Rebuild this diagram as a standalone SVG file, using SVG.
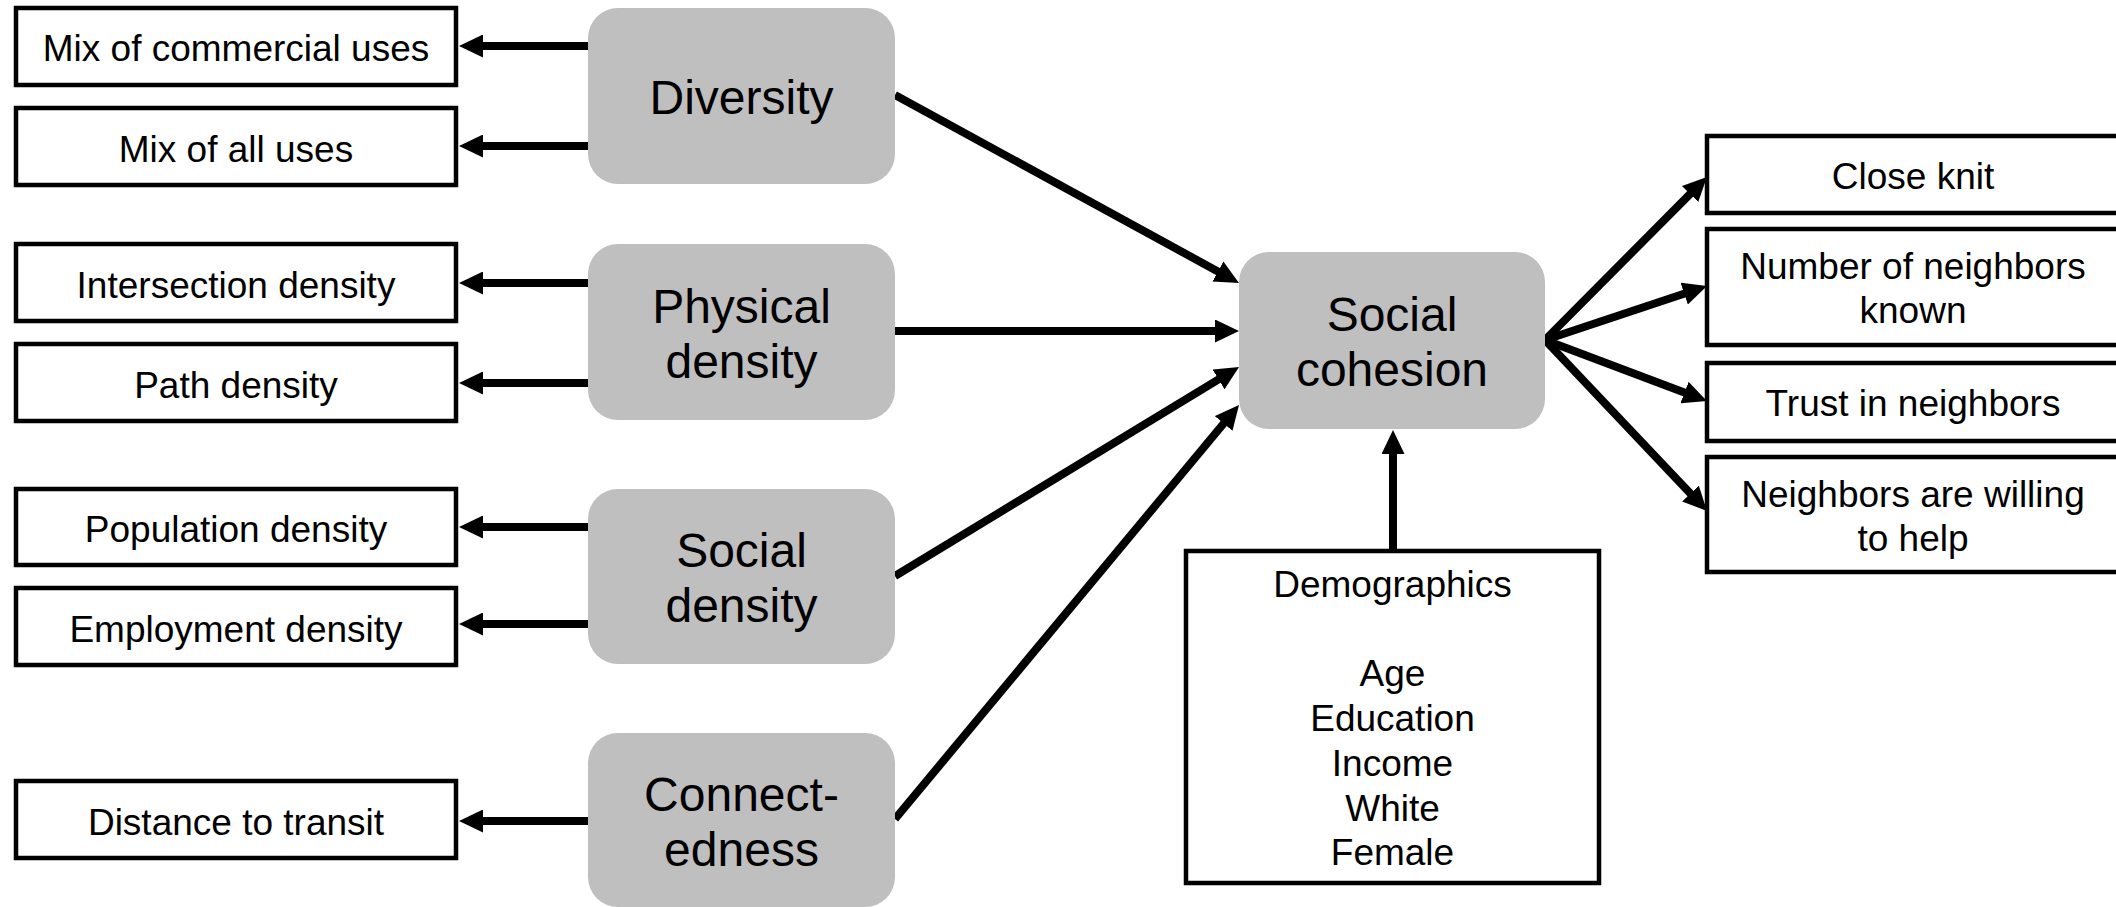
<svg xmlns="http://www.w3.org/2000/svg" width="2116" height="907" viewBox="0 0 2116 907">
<defs>
<style>
.box{fill:#ffffff;stroke:#000000;stroke-width:4.5}
.gray{fill:#bfbfbf;stroke:none}
.t{font-family:"Liberation Sans",Arial,sans-serif;font-size:37px;fill:#000000;text-anchor:middle}
.big{font-family:"Liberation Sans",Arial,sans-serif;font-size:48px;fill:#000000;text-anchor:middle}
.arr{stroke:#000000;stroke-width:8;fill:none;marker-end:url(#ah)}
</style>
<marker id="ah" viewBox="0 0 24 23" refX="14" refY="11.5" markerWidth="24" markerHeight="23" markerUnits="userSpaceOnUse" orient="auto">
<path d="M0,0 L24,11.5 L0,23 z" fill="#000000"/>
</marker>
</defs>
<rect width="2116" height="907" fill="#ffffff"/>

<g id="connectors">
<line class="arr" x1="588" y1="46" x2="469" y2="46"/>
<line class="arr" x1="588" y1="146" x2="469" y2="146"/>
<line class="arr" x1="588" y1="283" x2="469" y2="283"/>
<line class="arr" x1="588" y1="383" x2="469" y2="383"/>
<line class="arr" x1="588" y1="527" x2="469" y2="527"/>
<line class="arr" x1="588" y1="624" x2="469" y2="624"/>
<line class="arr" x1="588" y1="821" x2="469" y2="821"/>
<line class="arr" x1="895" y1="95" x2="1230.2" y2="278.2"/>
<line class="arr" x1="895" y1="331" x2="1229" y2="331"/>
<line class="arr" x1="895" y1="576" x2="1230.5" y2="372.2"/>
<line class="arr" x1="895" y1="819" x2="1232.6" y2="412.7"/>
<line class="arr" x1="1393" y1="551" x2="1393" y2="440"/>
<line class="arr" x1="1545" y1="340" x2="1699.9" y2="184.1"/>
<line class="arr" x1="1545" y1="340" x2="1697.5" y2="289.2"/>
<line class="arr" x1="1545" y1="340" x2="1697.6" y2="397.5"/>
<line class="arr" x1="1545" y1="340" x2="1700.1" y2="503.7"/>
</g>

<g id="mix-commercial"><rect class="box" x="16" y="8" width="440" height="77"/><text class="t" x="236" y="61">Mix of commercial uses</text></g>
<g id="mix-all"><rect class="box" x="16" y="108" width="440" height="77"/><text class="t" x="236" y="162">Mix of all uses</text></g>
<g id="intersection"><rect class="box" x="16" y="244" width="440" height="77"/><text class="t" x="236" y="298">Intersection density</text></g>
<g id="path-density"><rect class="box" x="16" y="344" width="440" height="77"/><text class="t" x="236" y="398">Path density</text></g>
<g id="population"><rect class="box" x="16" y="489" width="440" height="76"/><text class="t" x="236" y="542">Population density</text></g>
<g id="employment"><rect class="box" x="16" y="588" width="440" height="77"/><text class="t" x="236" y="642">Employment density</text></g>
<g id="transit"><rect class="box" x="16" y="781" width="440" height="77"/><text class="t" x="236" y="835">Distance to transit</text></g>

<g id="diversity"><rect class="gray" x="588" y="8" width="307" height="176" rx="30"/><text class="big" x="741.5" y="114">Diversity</text></g>
<g id="physical"><rect class="gray" x="588" y="244" width="307" height="176" rx="30"/><text class="big" x="741.5" y="323">Physical</text><text class="big" x="741.5" y="378">density</text></g>
<g id="social-density"><rect class="gray" x="588" y="489" width="307" height="175" rx="30"/><text class="big" x="741.5" y="567">Social</text><text class="big" x="741.5" y="622">density</text></g>
<g id="connectedness"><rect class="gray" x="588" y="733" width="307" height="174" rx="30"/><text class="big" x="741.5" y="811">Connect-</text><text class="big" x="741.5" y="866">edness</text></g>

<g id="social-cohesion"><rect class="gray" x="1239" y="252" width="306" height="177" rx="30"/><text class="big" x="1392" y="331">Social</text><text class="big" x="1392" y="386">cohesion</text></g>

<g id="demographics"><rect class="box" x="1186" y="551" width="413" height="332"/>
<text class="t" x="1392.5" y="597">Demographics</text>
<text class="t" x="1392.5" y="686">Age</text>
<text class="t" x="1392.5" y="731">Education</text>
<text class="t" x="1392.5" y="776">Income</text>
<text class="t" x="1392.5" y="821">White</text>
<text class="t" x="1392.5" y="865">Female</text>
</g>

<g id="close-knit"><rect class="box" x="1707" y="136" width="420" height="77"/><text class="t" x="1913" y="189">Close knit</text></g>
<g id="neighbors-known"><rect class="box" x="1707" y="229" width="420" height="116"/><text class="t" x="1913" y="279">Number of neighbors</text><text class="t" x="1913" y="323">known</text></g>
<g id="trust"><rect class="box" x="1707" y="363" width="420" height="78"/><text class="t" x="1913" y="416">Trust in neighbors</text></g>
<g id="willing"><rect class="box" x="1707" y="457" width="420" height="115"/><text class="t" x="1913" y="507">Neighbors are willing</text><text class="t" x="1913" y="551">to help</text></g>
</svg>
